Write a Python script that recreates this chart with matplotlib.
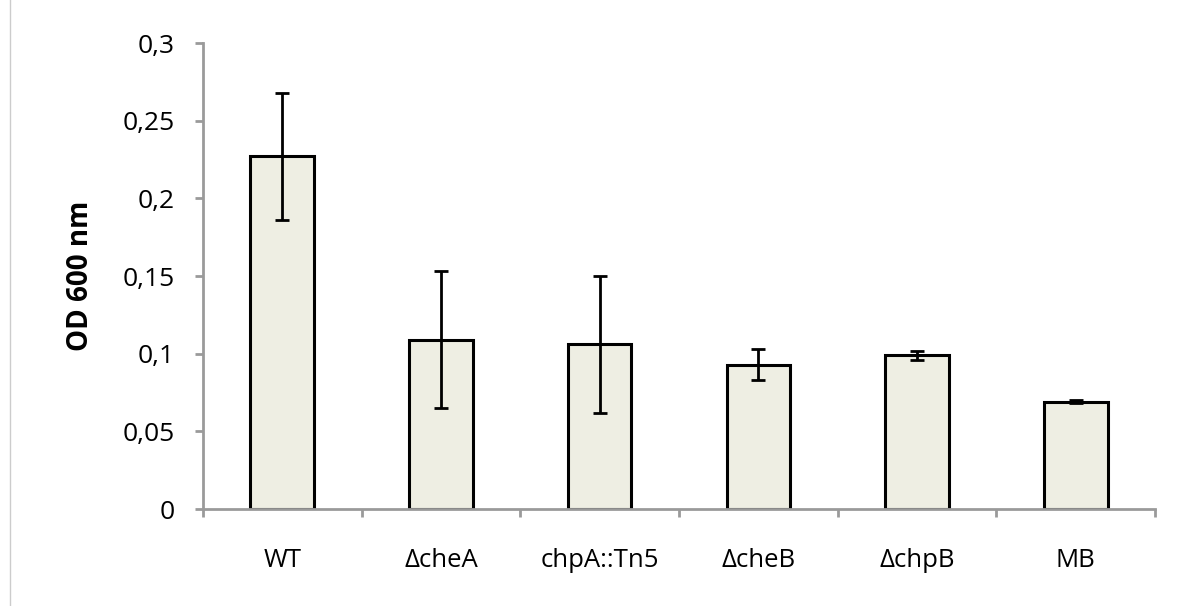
import matplotlib.pyplot as plt
from matplotlib.lines import Line2D
from matplotlib.ticker import FuncFormatter

strains = ["WT", "\u0394cheA", "chpA::Tn5", "\u0394cheB", "\u0394chpB", "MB"]
od600 = [0.227, 0.109, 0.106, 0.093, 0.099, 0.069]
od600_err = [0.041, 0.044, 0.044, 0.010, 0.003, 0.001]

plt.rcParams["font.family"] = ["Open Sans", "DejaVu Sans"]

fig = plt.figure(figsize=(11.86, 6.06), dpi=100)
ax = fig.add_axes([0.171, 0.160, 0.803, 0.769])

x = list(range(len(strains)))
ax.bar(x, od600, width=0.4, color="#eeeee3", edgecolor="black", linewidth=2.2, zorder=2)
ax.errorbar(x, od600, yerr=od600_err, fmt="none", ecolor="black",
            elinewidth=2, capsize=5, capthick=2, zorder=3)

ax.set_xlim(-0.5, len(strains) - 0.5)
ax.set_ylim(0, 0.3)
ax.set_yticks([0, 0.05, 0.1, 0.15, 0.2, 0.25, 0.3])
ax.yaxis.set_major_formatter(FuncFormatter(lambda v, p: f"{v:g}".replace(".", ",")))

# separator ticks between categories, labels centred under the bars
ax.set_xticks([i - 0.5 for i in range(len(strains) + 1)], minor=False)
ax.set_xticklabels([])
ax.set_xticks(x, minor=True)
ax.set_xticklabels(strains, minor=True)

for s in ["top", "right"]:
    ax.spines[s].set_visible(False)
for s in ["left", "bottom"]:
    ax.spines[s].set_color("#9a9a9a")
    ax.spines[s].set_linewidth(2)

ax.tick_params(axis="y", which="major", direction="out", length=6, width=2,
               color="#9a9a9a", labelsize=19, pad=14)
ax.tick_params(axis="x", which="major", direction="out", length=6, width=2,
               color="#9a9a9a")
ax.tick_params(axis="x", which="minor", length=0, labelsize=18.5, pad=28)

ax.set_ylabel("OD 600 nm", fontsize=20, fontweight="bold", labelpad=20)

fig.add_artist(Line2D([10 / 1186, 10 / 1186], [0, 1], color="#cccccc", linewidth=1))

fig.savefig("out.png", dpi=100)
